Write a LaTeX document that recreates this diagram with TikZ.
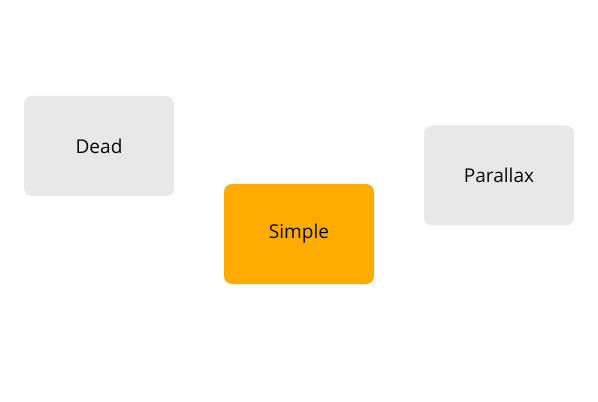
\documentclass[tikz,border=0pt]{standalone}
\usepackage{fontspec}
\setmainfont{Open Sans}
\definecolor{boxgray}{HTML}{E8E8E8}
\definecolor{boxorange}{HTML}{FFAB00}
\definecolor{txt}{HTML}{0A0A0A}
\begin{document}
\begin{tikzpicture}[x=0.75pt,y=-0.75pt,
  card/.style={rounded corners=6pt, minimum width=112.5pt, minimum height=75pt, inner sep=0pt, text=txt, font=\fontsize{14.3pt}{16pt}\selectfont},
  graycard/.style={card, fill=boxgray},
  orangecard/.style={card, fill=boxorange}]
\useasboundingbox (0,0) rectangle (598,402);
\node[graycard] (dead) at (99,146) {\raisebox{-2pt}{Dead}};
\node[orangecard] (simple) at (299,234) {\raisebox{-2pt}{Simple}};
\node[graycard] (parallax) at (499,175.5) {\raisebox{-2pt}{Parallax}};
\end{tikzpicture}
\end{document}
